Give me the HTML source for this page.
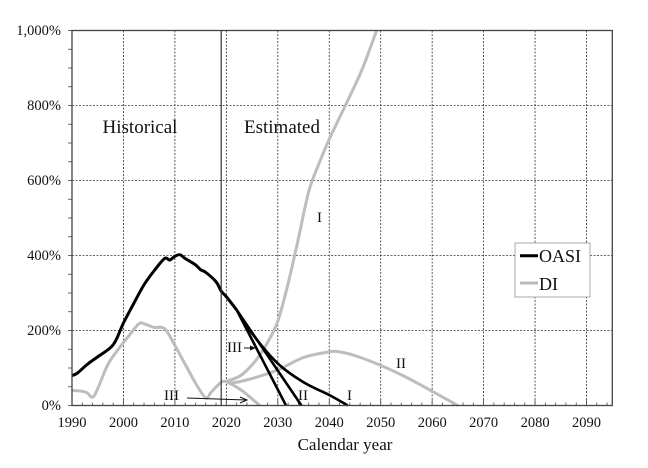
<!DOCTYPE html>
<html><head><meta charset="utf-8"><style>
html,body{margin:0;padding:0;background:#fff;}
svg{display:block;font-family:"Liberation Serif",serif;}
</style></head><body>
<svg id="s" width="648" height="468" viewBox="0 0 648 468" xmlns="http://www.w3.org/2000/svg">
<rect width="648" height="468" fill="#fff"/>
<g id="grid"></g>
<g id="series"></g>
<rect x="72" y="30.5" width="540.3" height="375" fill="none" stroke="#444" stroke-width="1.3"/>
<line x1="221.2" y1="30.5" x2="221.2" y2="405.5" stroke="#333" stroke-width="1.2"/>
<g font-size="14.5" fill="#111" text-anchor="end">
<text x="61" y="410">0%</text>
<text x="61" y="335">200%</text>
<text x="61" y="260">400%</text>
<text x="61" y="185">600%</text>
<text x="61" y="110">800%</text>
<text x="61" y="35">1,000%</text>
</g>
<g font-size="14.5" fill="#111" text-anchor="middle">
<text x="72" y="427">1990</text>
<text x="123.5" y="427">2000</text>
<text x="174.9" y="427">2010</text>
<text x="226.4" y="427">2020</text>
<text x="277.8" y="427">2030</text>
<text x="329.3" y="427">2040</text>
<text x="380.7" y="427">2050</text>
<text x="432.2" y="427">2060</text>
<text x="483.6" y="427">2070</text>
<text x="535.1" y="427">2080</text>
<text x="586.5" y="427">2090</text>
</g>
<text x="345" y="450" font-size="17" text-anchor="middle" fill="#111">Calendar year</text>
<text x="140" y="133" font-size="19" text-anchor="middle" fill="#111">Historical</text>
<text x="282" y="133" font-size="19" text-anchor="middle" fill="#111">Estimated</text>
<g font-size="15" fill="#111">
<text x="317" y="222">I</text>
<text x="227" y="352">III</text>
<text x="396" y="368">II</text>
<text x="164" y="400">III</text>
<text x="298" y="400">II</text>
<text x="347" y="400">I</text>
</g>
<line x1="187" y1="398" x2="246" y2="400" stroke="#111" stroke-width="1"/>
<path d="M240,397 L247,400 L240,403" fill="none" stroke="#111" stroke-width="1"/>
<line x1="244" y1="348" x2="254" y2="348" stroke="#111" stroke-width="1"/>
<path d="M250,345.5 L256,348 L250,350.5 Z" fill="#111"/>
<rect x="515" y="243" width="75" height="54" fill="#fff" stroke="#aaa" stroke-width="1"/>
<line x1="520" y1="255.7" x2="538" y2="255.7" stroke="#000" stroke-width="3"/>
<line x1="520" y1="283" x2="538" y2="283" stroke="#bbb" stroke-width="3"/>
<text x="539" y="262" font-size="18" fill="#111">OASI</text>
<text x="539" y="290" font-size="18" fill="#111">DI</text>
</svg>
<script>
var NS="http://www.w3.org/2000/svg";
function X(y){return 72+(y-1990)*5.145;}
function Y(p){return 405.5-p*0.375;}
var g=document.getElementById("grid"),s=document.getElementById("series");
function el(par,tag,a){var e=document.createElementNS(NS,tag);for(var k in a)e.setAttribute(k,a[k]);par.appendChild(e);return e;}
for(var p=200;p<=800;p+=200)el(g,"line",{x1:72,x2:612.3,y1:Y(p),y2:Y(p),stroke:"#333","stroke-width":0.8,"stroke-dasharray":"2,1.5"});
for(var yr=2000;yr<=2090;yr+=10)el(g,"line",{x1:X(yr),x2:X(yr),y1:30.5,y2:405.5,stroke:"#333","stroke-width":0.8,"stroke-dasharray":"2,1.5"});
for(var yr=1990;yr<=2095;yr+=2)el(g,"line",{x1:X(yr),x2:X(yr),y1:405.5,y2:(yr%10==0?400:402.5),stroke:"#444","stroke-width":0.8});
for(var p=0;p<=1000;p+=50)el(g,"line",{x1:68,x2:72,y1:Y(p),y2:Y(p),stroke:"#444","stroke-width":0.8});
function path(pts,col,w){
  var P=pts.map(function(q){return [X(q[0]),Y(q[1])];});
  var d="M"+P[0][0]+","+P[0][1];
  for(var i=0;i<P.length-1;i++){
    var p0=P[i-1]||P[i],p1=P[i],p2=P[i+1],p3=P[i+2]||P[i+1],t=6;
    d+=" C"+(p1[0]+(p2[0]-p0[0])/t)+","+(p1[1]+(p2[1]-p0[1])/t)+" "+(p2[0]-(p3[0]-p1[0])/t)+","+(p2[1]-(p3[1]-p1[1])/t)+" "+p2[0]+","+p2[1];
  }
  el(s,"path",{d:d,fill:"none",stroke:col,"stroke-width":w,"stroke-linejoin":"round"});
}
var G="#bdbdbd",B="#000";
path([[1990,40],[1992,38],[1993,33],[1994,22],[1995,45],[1997,110],[1999,150],[2001,185],[2003,218],[2004,218],[2006,208],[2008,205],[2010,160],[2012,110],[2014,60],[2016,20],[2017,35],[2019,62],[2020,64]],G,3);
path([[2020,64],[2023,82],[2026,125],[2028,168],[2030,225],[2032,325],[2034,445],[2036,570],[2038,645],[2040,710],[2042,768],[2044,825],[2046.5,900],[2049.2,1000]],G,3);
path([[2020,64],[2021,60],[2025,72],[2030,95],[2035,128],[2040,143],[2042,143],[2045,133],[2050,107],[2055,75],[2060,38],[2065,0]],G,3);
path([[2020,64],[2023,40],[2026.5,0]],G,3);
path([[1990,80],[1991,86],[1993,110],[1995,130],[1998,162],[2000,220],[2002,272],[2004,322],[2006,360],[2008,392],[2009,388],[2010,398],[2011,402],[2012,392],[2014,375],[2015,362],[2016,355],[2018,330],[2019,305],[2020,290],[2022,255]],B,3);
path([[2022,255],[2025,192],[2030,112],[2035,62],[2040,28],[2043.6,0]],B,2.6);
path([[2022,255],[2034.6,0]],B,2.6);
path([[2022,255],[2031.6,0]],B,2.6);
</script>
</body></html>
